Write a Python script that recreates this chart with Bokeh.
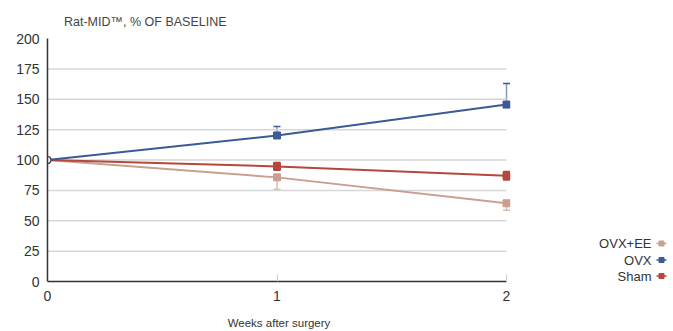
from bokeh.plotting import figure
from bokeh.models import (ColumnDataSource, Whisker, TeeHead, FixedTicker, Range1d)
from bokeh.layouts import row
from bokeh.embed import file_html
from bokeh.resources import INLINE
from bokeh.core.properties import value

# ---- data ----
weeks = [0, 1, 2]
ovx = [100, 120.2, 145.6]
ovx_err_up = [100, 127.6, 162.9]
sham = [100, 94.7, 87.0]
sham_err_up = [100, 98.0, 90.6]
sham_err_lo = [100, 91.5, 83.5]
ovxee = [100, 85.7, 64.4]
ovxee_err_lo = [100, 75.9, 58.6]
y_ticks = [0, 25, 50, 75, 100, 125, 150, 175, 200]
grid_values = [25, 50, 75, 100, 125, 150, 175]
x_ticks = [0, 1, 2]
legend_names = ["OVX+EE", "OVX", "Sham"]
title_text = "Rat-MID\u2122, % OF BASELINE"

C_OVX = "#3c5a96"
C_SHAM = "#b5473c"
C_EE = "#c9a08f"
TXT = "#333333"
FONT = "Liberation Sans"

FRAME_W = 463
X_END = 2 * FRAME_W / 459.0

p = figure(width=47 + FRAME_W + 5, height=331, output_backend="svg",
           toolbar_location=None,
           x_range=Range1d(0, X_END), y_range=Range1d(0, 200),
           min_border_left=47, min_border_right=5, min_border_top=38,
           min_border_bottom=50, outline_line_color=None, title=title_text)
p.background_fill_color = "white"
p.border_fill_color = "white"
p.title.align = "left"
p.title.offset = 16.5
p.title.text_font = FONT
p.title.text_font_size = "12.5px"
p.title.text_font_style = "normal"
p.title.text_color = "#444444"
p.title.standoff = 19

# grid (drawn only across the 0..2 span)
p.xgrid.grid_line_color = None
p.ygrid.grid_line_color = None
p.segment(x0=[x_ticks[0]] * len(grid_values), y0=grid_values,
          x1=[x_ticks[-1]] * len(grid_values), y1=grid_values,
          line_color="#d6d6d6", line_width=1.5)

# axes
p.yaxis.ticker = FixedTicker(ticks=y_ticks)
p.yaxis.axis_line_color = TXT
p.yaxis.axis_line_width = 1.5
p.yaxis.major_tick_line_color = None
p.yaxis.minor_tick_line_color = None
p.yaxis.major_tick_in = 0
p.yaxis.major_tick_out = 0
p.yaxis.major_label_standoff = 8
p.yaxis.major_label_text_font = FONT
p.yaxis.major_label_text_font_size = "14px"
p.yaxis.major_label_text_color = TXT

p.xaxis.ticker = FixedTicker(ticks=x_ticks)
p.xaxis.bounds = (x_ticks[0], x_ticks[-1])
p.xaxis.axis_line_color = TXT
p.xaxis.axis_line_width = 1.5
p.xaxis.major_tick_in = 7
p.xaxis.major_tick_out = 0
p.xaxis.major_tick_line_color = "#cccccc"
p.xaxis.minor_tick_line_color = None
p.xaxis.major_label_standoff = 9
p.xaxis.major_label_text_font = FONT
p.xaxis.major_label_text_font_size = "14px"
p.xaxis.major_label_text_color = TXT
p.xaxis.axis_label = "Weeks after surgery"
p.xaxis.axis_label_text_font = FONT
p.xaxis.axis_label_text_font_size = "11.5px"
p.xaxis.axis_label_text_font_style = "normal"
p.xaxis.axis_label_text_color = TXT
p.xaxis.axis_label_standoff = 13

# lines
p.line(weeks, ovxee, line_color=C_EE, line_width=2)
p.line(weeks, sham, line_color=C_SHAM, line_width=2)
p.line(weeks, ovx, line_color=C_OVX, line_width=2)

# error bars
src_ovx = ColumnDataSource(dict(x=weeks[1:], up=ovx_err_up[1:], lo=ovx[1:]))
p.add_layout(Whisker(base="x", upper="up", lower="lo", source=src_ovx,
                     line_color="#8597bd", line_width=1.5,
                     upper_head=TeeHead(size=7, line_color=C_OVX, line_width=1.5),
                     lower_head=None))
src_sham = ColumnDataSource(dict(x=weeks[1:], up=sham_err_up[1:], lo=sham_err_lo[1:]))
p.add_layout(Whisker(base="x", upper="up", lower="lo", source=src_sham,
                     line_color=C_SHAM, line_width=1.5,
                     upper_head=TeeHead(size=7, line_color=C_SHAM, line_width=1.5),
                     lower_head=TeeHead(size=7, line_color=C_SHAM, line_width=1.5)))
src_ee = ColumnDataSource(dict(x=weeks[1:], up=ovxee[1:], lo=ovxee_err_lo[1:]))
p.add_layout(Whisker(base="x", upper="up", lower="lo", source=src_ee,
                     line_color="#d8bcb0", line_width=1.5,
                     upper_head=None,
                     lower_head=TeeHead(size=7, line_color="#d8bcb0", line_width=1.5)))

# markers
p.scatter(weeks[1:], ovxee[1:], marker="square", size=7, fill_color=C_EE, line_color=C_EE)
p.scatter(weeks[1:], sham[1:], marker="square", size=7, fill_color=C_SHAM, line_color=C_SHAM)
p.scatter(weeks[1:], ovx[1:], marker="square", size=7, fill_color=C_OVX, line_color=C_OVX)
p.scatter([weeks[0]], [ovx[0]], marker="circle", size=7, fill_color="white",
          line_color=TXT, line_width=1.2)

# legend figure (same vertical borders as the main figure, y in page pixels)
LEG_W = 672 - (47 + FRAME_W + 5)
leg = figure(width=LEG_W, height=331, output_backend="svg", toolbar_location=None,
             x_range=Range1d(0, LEG_W), y_range=Range1d(281, 38),
             min_border_left=0, min_border_right=0, min_border_top=38,
             min_border_bottom=50, outline_line_color=None,
             x_axis_location=None, y_axis_location=None)
leg.title.visible = False
leg.grid.visible = False
leg_y = [243, 259.5, 275.5]
leg_colors = [C_EE, C_OVX, C_SHAM]
x0_leg = 651 - (47 + FRAME_W + 5)
leg.text(x=[x0_leg] * 3, y=leg_y, text=legend_names, text_align="right",
         text_baseline="middle", text_font=value(FONT), text_font_size="13px",
         text_color=TXT)
leg.segment(x0=[x0_leg + 5] * 3, y0=leg_y, x1=[x0_leg + 15] * 3, y1=leg_y,
            line_color=leg_colors, line_width=1.5)
leg.scatter(x=[x0_leg + 10] * 3, y=leg_y, marker="square", size=5,
            fill_color=leg_colors, line_color=leg_colors)

layout = row(p, leg)
open("out.html", "w").write(file_html(layout, INLINE))
